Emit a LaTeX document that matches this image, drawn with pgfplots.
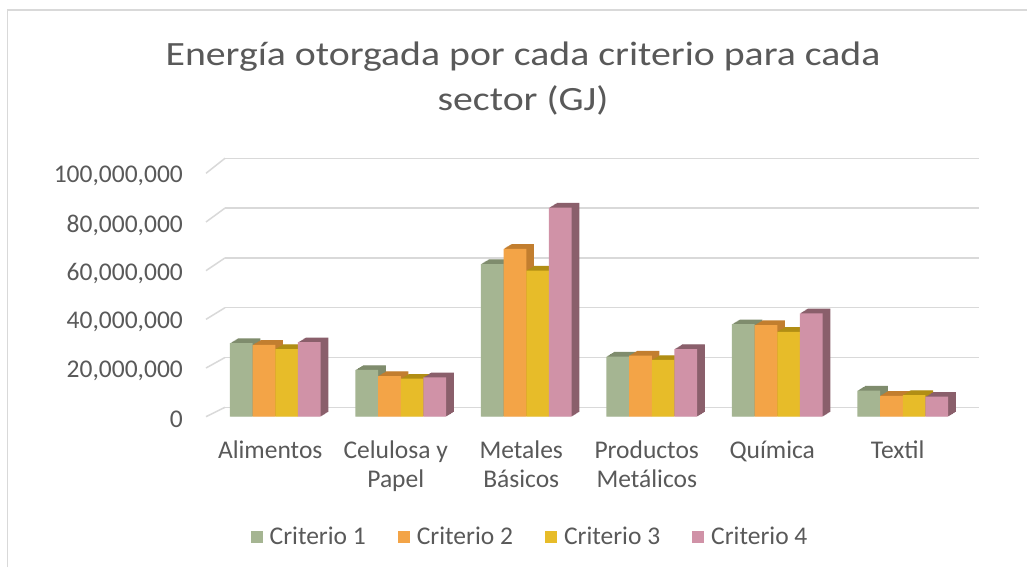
\documentclass[border=0pt]{standalone}
\usepackage{pgfplots}
\pgfplotsset{compat=1.18}
\usepackage{fontspec}
\setmainfont{Carlito}
\newfontfamily\titlefont[FakeStretch=1.17]{Carlito}
\definecolor{txt}{HTML}{595959}
\definecolor{gridc}{HTML}{D9D9D9}
\definecolor{cA}{HTML}{A5B592}\definecolor{dA}{HTML}{7F8C6D}
\definecolor{cB}{HTML}{F3A447}\definecolor{dB}{HTML}{C27E2F}
\definecolor{cC}{HTML}{E7BC29}\definecolor{dC}{HTML}{B18E14}
\definecolor{cD}{HTML}{D092A7}\definecolor{dD}{HTML}{8A5F6B}
\tikzset{
 box3d/.style={
  preaction={fill=#1, transform canvas={shift={(7.70pt,4.70pt)}}},
  preaction={fill=#1, transform canvas={shift={(6.74pt,4.11pt)}}},
  preaction={fill=#1, transform canvas={shift={(5.78pt,3.53pt)}}},
  preaction={fill=#1, transform canvas={shift={(4.81pt,2.94pt)}}},
  preaction={fill=#1, transform canvas={shift={(3.85pt,2.35pt)}}},
  preaction={fill=#1, transform canvas={shift={(2.89pt,1.76pt)}}},
  preaction={fill=#1, transform canvas={shift={(1.93pt,1.18pt)}}},
  preaction={fill=#1, transform canvas={shift={(0.96pt,0.59pt)}}},
 }
}
\pgfplotstableread{
x  c1        c2        c3        c4
0  30200000  29500000  27800000  30600000
1  19200000  16700000  15600000  16200000
2  62700000  69000000  60000000  85900000
3  24700000  25100000  23300000  27800000
4  38000000  37600000  34900000  42500000
5  10700000   8600000   8900000   8200000
}\datatable
\begin{document}
\begin{tikzpicture}
\useasboundingbox (0,0) rectangle (1027pt,567pt);
\fill[white] (0,0) rectangle (1027pt,567pt);
\draw[gridc, line width=1.5pt] (7.3pt,0) -- (7.3pt,557pt) -- (1030pt,557pt);
% back wall gridlines
\begin{axis}[
  at={(225pt,159.7pt)}, anchor=south west,
  scale only axis, width=754pt, height=249pt,
  xmin=0, xmax=1, ymin=0, ymax=100000000,
  axis line style={draw=none}, major tick length=0pt,
  scaled y ticks=false,
  xtick=\empty, ytick={0,20000000,40000000,60000000,80000000,100000000},
  yticklabels={}, ymajorgrids,
  grid style={gridc, line width=1.5pt},
  clip=false,
]
\end{axis}
\foreach \k in {0,...,5}{
  \draw[gridc, line width=1.5pt] (206pt,{(150.3+48.68*\k)*1pt}) -- (225pt,{(159.7+49.8*\k)*1pt});
}
\begin{axis}[
  at={(212.5pt,150.3pt)}, anchor=south west,
  scale only axis, width=753pt, height=243.4pt,
  xmin=-0.5, xmax=5.5, ymin=0, ymax=100000000,
  enlargelimits=false, clip=false,
  ybar, bar width=22.7pt,
  axis line style={draw=none}, major tick length=0pt,
  xtick={0,1,2,3,4,5},
  xticklabels={\strut Alimentos,{\strut Celulosa y\\Papel},{\strut Metales\\Básicos},{\strut Productos\\Metálicos},\strut Química,\strut Textil},
  xticklabel style={align=center, anchor=north, inner sep=0pt, yshift=-21pt, xshift=-5pt,
     font=\fontsize{25.5}{29}\selectfont, text=txt},
  ytick={0,20000000,40000000,60000000,80000000,100000000},
  scaled y ticks=false,
  yticklabel style={anchor=east, inner sep=0pt, xshift=-29.5pt, yshift=-3pt,
     font=\fontsize{25.5}{30}\selectfont, text=txt,
     /pgf/number format/.cd, fixed, 1000 sep={,}, assume math mode=true},
  title={Energía otorgada por cada criterio para cada\\sector (GJ)},
  title style={at={(0.4124,1.517)}, anchor=north, align=center, inner sep=0pt,
     font=\titlefont\fontsize{34}{45}\selectfont, text=txt},
  legend columns=4,
  legend style={at={(0.425,-0.494)}, anchor=center, draw=none, fill=none,
     font=\fontsize{25.5}{30}\selectfont, text=txt,
     nodes={inner xsep=7pt, inner ysep=2pt},
     /tikz/every even column/.append style={column sep=25pt}},
]
\addplot[forget plot, draw=none, fill=cA, bar shift=-34.05pt, box3d=dA] table[x=x,y=c1]{\datatable};
\addplot[forget plot, draw=none, fill=cB, bar shift=-11.35pt, box3d=dB] table[x=x,y=c2]{\datatable};
\addplot[forget plot, draw=none, fill=cC, bar shift=11.35pt, box3d=dC] table[x=x,y=c3]{\datatable};
\addplot[forget plot, draw=none, fill=cD, bar shift=34.05pt, box3d=dD] table[x=x,y=c4]{\datatable};
\addlegendimage{fill=cA, draw=none, legend image code/.code={\fill (0pt,-6pt) rectangle (12pt,6pt);}}
\addlegendentry{Criterio 1}
\addlegendimage{fill=cB, draw=none, legend image code/.code={\fill (0pt,-6pt) rectangle (12pt,6pt);}}
\addlegendentry{Criterio 2}
\addlegendimage{fill=cC, draw=none, legend image code/.code={\fill (0pt,-6pt) rectangle (12pt,6pt);}}
\addlegendentry{Criterio 3}
\addlegendimage{fill=cD, draw=none, legend image code/.code={\fill (0pt,-6pt) rectangle (12pt,6pt);}}
\addlegendentry{Criterio 4}
\end{axis}
\end{tikzpicture}
\end{document}
